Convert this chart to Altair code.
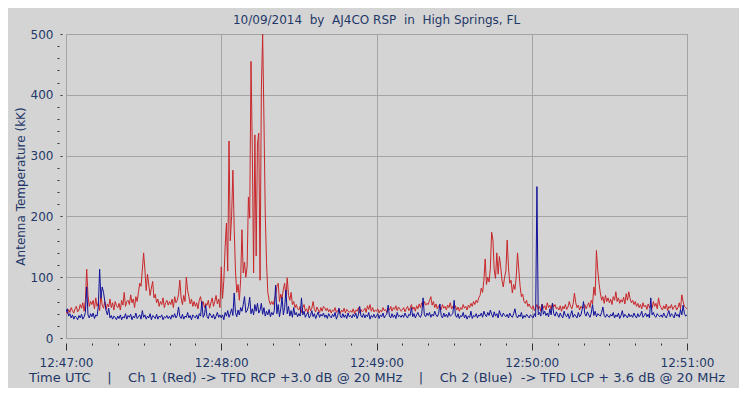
import altair as alt
import pandas as pd

NB = "\u00a0"
title_text = "10/09/2014" + NB * 2 + "by" + NB * 2 + "AJ4CO RSP" + NB * 2 + "in" + NB * 2 + "High Springs, FL"
y_title = "Antenna Temperature (kK)"
x_title = ("Time UTC" + NB * 4 + "|" + NB * 4 + "Ch 1 (Red) -> TFD RCP +3.0 dB @ 20 MHz"
           + NB * 4 + "|" + NB * 4 + "Ch 2 (Blue)" + NB * 2 + "-> TFD LCP + 3.6 dB @ 20 MHz")

x_tick_values = [0, 60, 120, 180, 240]
x_tick_labels = ["12:47:00", "12:48:00", "12:49:00", "12:50:00", "12:51:00"]
x_minor_values = [v for v in range(0, 241, 10) if v % 60]
y_tick_values = [0, 100, 200, 300, 400, 500]
y_minor_values = [v for v in range(0, 501, 20) if v % 100]

step_seconds = 0.5  # seconds after 12:47:00 between samples

# Ch 1 (Red), kK, one value every 0.5 s from 12:47:00
ch1_red = [
    44, 40, 47, 42, 50, 45, 41, 48, 52, 43, 46, 55, 49, 58, 44, 62, 113, 70, 52, 60,
    55, 62, 48, 66, 52, 58, 45, 70, 54, 49, 60, 47, 56, 51, 64, 50, 58, 46, 60, 53,
    50, 57, 46, 62, 54, 75, 52, 60, 62, 55, 71, 58, 64, 50, 68, 60, 75, 90, 85, 112,
    140, 112, 78, 105, 87, 70, 82, 93, 66, 72, 58, 64, 52, 60, 55, 66, 50, 58, 62, 54,
    60, 55, 64, 50, 68, 58, 62, 72, 95, 66, 55, 70, 60, 100, 78, 68, 56, 64, 52, 60,
    52, 58, 48, 62, 68, 55, 60, 50, 57, 54, 62, 49, 58, 66, 52, 60, 70, 56, 64, 50,
    117, 65, 95, 150, 189, 110, 324, 160, 200, 276, 180, 110, 75, 88, 62, 96, 178, 107, 125, 100,
    118, 232, 197, 455, 309, 107, 334, 135, 321, 337, 95, 408, 500, 360, 206, 123, 75, 62, 55, 60,
    55, 62, 70, 85, 90, 60, 72, 65, 80, 90, 68, 99, 70, 62, 75, 55, 60, 50, 55, 48,
    46, 52, 42, 50, 55, 44, 48, 41, 53, 45, 49, 60, 47, 43, 51, 46, 42, 50, 44, 52,
    50, 45, 49, 43, 47, 41, 46, 44, 50, 42, 45, 48, 40, 46, 43, 49, 41, 47, 44, 42,
    45, 42, 48, 40, 46, 44, 50, 41, 47, 43, 45, 49, 42, 53, 47, 55, 44, 50, 43, 46,
    44, 48, 41, 46, 43, 50, 45, 47, 42, 49, 46, 52, 44, 50, 47, 53, 45, 51, 48, 44,
    46, 50, 43, 48, 52, 45, 49, 55, 47, 51, 44, 53, 48, 56, 50, 58, 52, 60, 54, 57,
    55, 62, 68, 54, 60, 50, 56, 48, 53, 51, 47, 55, 49, 52, 46, 54, 50, 58, 48, 52,
    48, 53, 46, 51, 44, 50, 47, 55, 49, 52, 46, 54, 50, 57, 52, 60, 55, 62, 58, 66,
    70, 82, 75, 95, 130, 88, 100, 92, 115, 174, 161, 112, 98, 140, 105, 134, 117, 95, 84, 100,
    110, 161, 117, 90, 95, 74, 88, 80, 100, 140, 112, 85, 68, 72, 60, 57, 62, 52, 56, 50,
    48, 53, 45, 50, 55, 47, 52, 44, 56, 49, 53, 46, 58, 50, 54, 47, 57, 51, 55, 48,
    50, 46, 53, 44, 52, 48, 55, 47, 51, 60, 52, 48, 56, 74, 58, 50, 54, 46, 52, 49,
    50, 55, 48, 53, 58, 50, 62, 56, 84, 70, 144, 112, 90, 74, 62, 68, 57, 70, 60, 66,
    58, 64, 55, 68, 62, 76, 60, 66, 57, 63, 59, 67, 56, 73, 62, 76, 65, 58, 62, 55,
    60, 52, 57, 50, 55, 48, 58, 51, 54, 47, 56, 50, 53, 49, 60, 52, 57, 48, 66, 54,
    50, 46, 53, 48, 56, 45, 52, 49, 55, 47, 51, 54, 46, 50, 58, 48, 71, 60, 52, 50,
    48,
]

# Ch 2 (Blue), kK, one value every 0.5 s from 12:47:00
ch2_blue = [
    43, 48, 36, 40, 33, 38, 31, 36, 34, 30, 37, 33, 39, 31, 35, 42, 84, 38, 33, 40,
    35, 41, 32, 38, 36, 52, 113, 65, 84, 75, 60, 45, 38, 49, 33, 37, 31, 36, 34, 30,
    36, 32, 38, 30, 35, 33, 40, 31, 37, 34, 39, 30, 36, 33, 41, 32, 35, 38, 31, 45,
    34, 38, 31, 36, 33, 40, 30, 37, 35, 32, 39, 31, 36, 34, 38, 30, 35, 33, 37, 32,
    36, 31, 38, 34, 40, 33, 37, 51, 35, 32, 39, 31, 36, 34, 42, 33, 37, 30, 38, 35,
    33, 38, 31, 40, 36, 60, 34, 38, 54, 35, 32, 41, 37, 33, 39, 31, 36, 42, 34, 38,
    33, 38, 30, 42, 36, 45, 34, 40, 48, 37, 74, 42, 35, 46, 38, 50, 44, 55, 68, 42,
    45, 52, 67, 40, 48, 38, 55, 44, 57, 41, 46, 57, 39, 50, 36, 44, 38, 47, 35, 42,
    38, 45, 87, 40, 55, 35, 48, 67, 38, 50, 79, 40, 52, 36, 45, 34, 50, 38, 42, 35,
    40, 36, 66, 38, 44, 34, 39, 42, 33, 37, 45, 35, 40, 32, 38, 43, 34, 39, 36, 41,
    34, 38, 32, 40, 36, 33, 39, 35, 42, 31, 37, 49, 36, 33, 40, 34, 38, 32, 41, 35,
    37, 33, 39, 35, 41, 32, 38, 52, 36, 34, 40, 33, 38, 35, 42, 31, 37, 34, 39, 33,
    36, 40, 32, 38, 35, 41, 33, 37, 39, 54, 36, 33, 40, 34, 38, 32, 42, 35, 37, 34,
    38, 34, 41, 36, 33, 39, 37, 50, 35, 40, 33, 38, 42, 36, 34, 40, 66, 38, 35, 41,
    37, 42, 34, 39, 36, 44, 38, 35, 40, 56, 37, 33, 41, 35, 39, 34, 42, 36, 38, 40,
    62, 38, 34, 40, 32, 37, 35, 42, 33, 38, 31, 36, 34, 44, 32, 37, 35, 40, 33, 38,
    36, 41, 34, 44, 38, 35, 42, 37, 46, 39, 34, 43, 36, 40, 33, 45, 38, 35, 41, 37,
    35, 39, 33, 41, 36, 34, 40, 48, 37, 33, 38, 35, 42, 32, 37, 34, 39, 36, 33, 38,
    36, 33, 40, 35, 249, 38, 42, 36, 55, 39, 44, 37, 41, 35, 48, 38, 57, 40, 36, 43,
    38, 34, 41, 36, 33, 44, 37, 35, 40, 32, 38, 45, 34, 39, 36, 33, 42, 35, 38, 47,
    60, 40, 36, 43, 38, 34, 41, 55, 37, 44, 35, 40, 38, 36, 42, 51, 37, 34, 39, 36,
    34, 39, 36, 42, 33, 38, 35, 41, 32, 37, 45, 34, 39, 36, 33, 40, 35, 38, 34, 41,
    36, 33, 40, 35, 38, 44, 34, 37, 41, 35, 39, 33, 66, 38, 42, 36, 34, 40, 37, 35,
    38, 34, 41, 36, 33, 39, 45, 35, 40, 37, 33, 42, 36, 39, 34, 47, 38, 54, 40, 36,
    38,
]

df_red = pd.DataFrame({"t": [i * step_seconds for i in range(len(ch1_red))], "v": ch1_red})
df_blue = pd.DataFrame({"t": [i * step_seconds for i in range(len(ch2_blue))], "v": ch2_blue})

FONT = "DejaVu Sans"
TEXT = "#1f3868"
RED = "#c8262a"
BLUE = "#10109a"
GRID = "#a4a4a4"
BG = "#d4d4d4"

label_expr = "[" + ",".join("'" + s + "'" for s in x_tick_labels) + "][round(datum.value / 60)]"

xs = alt.Scale(domain=[0, 240], nice=False, zero=False)
ys = alt.Scale(domain=[0, 500], nice=False)

red_layer = alt.Chart(df_red).mark_line(color=RED, strokeWidth=1, clip=True).encode(
    x=alt.X("t:Q", scale=xs, axis=alt.Axis(
        orient="bottom", values=x_tick_values, labelExpr=label_expr, grid=True, gridColor=GRID,
        gridOpacity=1, domain=False, tickSize=7, tickColor="#333333", offset=5, labelPadding=7,
        labelFont=FONT, labelFontSize=12, labelColor=TEXT, labelFlush=False,
        title=x_title, titleFont=FONT, titleFontSize=13, titleFontWeight="normal",
        titleColor=TEXT, titlePadding=3)),
    y=alt.Y("v:Q", scale=ys, axis=alt.Axis(
        orient="left", values=y_tick_values, grid=True, gridColor=GRID, gridOpacity=1,
        domain=False, tickSize=2, tickColor="#333333", offset=4, labelPadding=7,
        labelFont=FONT, labelFontSize=12, labelColor=TEXT, labelFlush=False,
        title=y_title, titleFont=FONT, titleFontSize=12, titleFontWeight="normal",
        titleColor=TEXT, titlePadding=3)),
)

blue_layer = alt.Chart(df_blue).mark_line(color=BLUE, strokeWidth=1, clip=True).encode(
    x=alt.X("t:Q", scale=xs, axis=alt.Axis(
        orient="bottom", values=x_minor_values, labels=False, grid=False, domain=False,
        tickSize=2, tickColor="#333333", offset=5, title=None)),
    y=alt.Y("v:Q", scale=ys, axis=alt.Axis(
        orient="left", values=y_minor_values, labels=False, grid=False, domain=False,
        tickSize=2, tickColor="#333333", offset=7, title=None)),
)

chart = alt.layer(red_layer, blue_layer).resolve_axis(
    x="independent", y="independent"
).properties(
    width=621,
    height=304,
    padding={"left": 58, "top": 26, "right": 52, "bottom": 50},
    autosize=alt.AutoSizeParams(type="none"),
    background=BG,
    title=alt.TitleParams(title_text, font=FONT, fontSize=12, fontWeight="normal",
                          color=TEXT, offset=1, anchor="middle", frame="group"),
).configure_view(stroke="#8c8c8c", strokeWidth=1)

chart.save("out.html", embed_options={"renderer": "svg", "actions": False})
